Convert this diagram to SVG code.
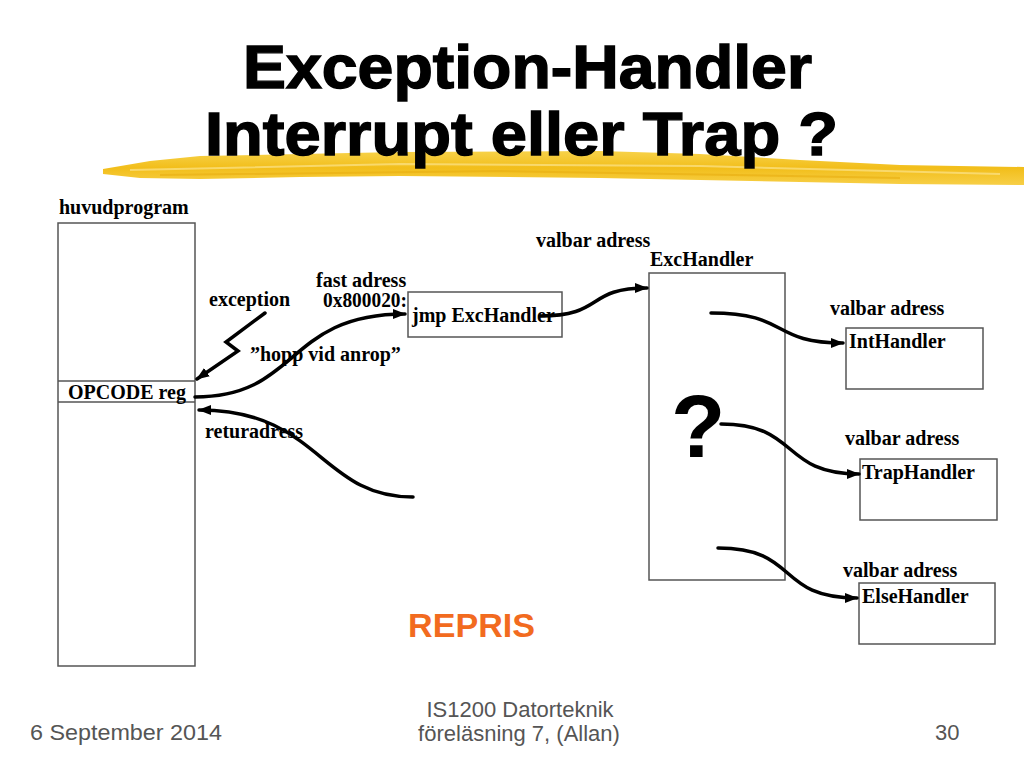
<svg xmlns="http://www.w3.org/2000/svg" width="1024" height="768" viewBox="0 0 1024 768">
<defs>
<style>
.lbl{font-family:"Liberation Serif","Times New Roman",serif;font-weight:bold;font-size:20px;fill:#000}
.box{fill:#fff;stroke:#555;stroke-width:1.5}
.conn{fill:none;stroke:#000;stroke-width:3.5;stroke-linecap:round;stroke-linejoin:miter}
.foot{font-family:"Liberation Sans Narrow","Liberation Sans",Arial,sans-serif;font-size:22px;fill:#555}
.title{font-family:"Liberation Sans",Arial,sans-serif;font-weight:bold;font-size:61px;fill:#000;stroke:#000;stroke-width:1.4}
</style>
<marker id="ah" markerUnits="userSpaceOnUse" markerWidth="14" markerHeight="10" refX="12" refY="5" orient="auto">
<path d="M0,0 L13,5 L0,10 z" fill="#000"/>
</marker>
<linearGradient id="brush" x1="0" y1="0" x2="0" y2="1">
<stop offset="0" stop-color="#F7D24A"/>
<stop offset="0.5" stop-color="#F2BE1A"/>
<stop offset="1" stop-color="#F7CF47"/>
</linearGradient>
</defs>
<rect width="1024" height="768" fill="#fff"/>

<g id="title">
<path d="M103,169 L150,161 L200,156 L300,154 L400,152 L600,151 L700,154 L800,160 L900,165 L1024,167 L1024,185 L900,184 L800,182 L700,180 L600,178 L400,176 L300,177 L200,179 L140,178 L103,174 z" fill="url(#brush)"/>
<path d="M130,170 L400,164 L700,166 L1000,174" stroke="#FBE38A" stroke-width="2" fill="none" opacity="0.7"/>
<path d="M160,175 L500,171 L900,178" stroke="#E8AE10" stroke-width="2" fill="none" opacity="0.6"/>
<text class="title" x="243" y="88" textLength="569" lengthAdjust="spacingAndGlyphs">Exception-Handler</text>
<text class="title" x="205" y="155" textLength="633" lengthAdjust="spacingAndGlyphs">Interrupt eller Trap ?</text>
</g>

<g id="huvudprogram">
<rect class="box" x="58" y="223" width="137" height="443"/>
<line x1="58" y1="381" x2="195" y2="381" stroke="#555" stroke-width="1.5"/>
<line x1="58" y1="402" x2="195" y2="402" stroke="#555" stroke-width="1.5"/>
<text class="lbl" x="59" y="214">huvudprogram</text>
<text class="lbl" x="68" y="399">OPCODE reg</text>
</g>

<g id="jmp">
<rect class="box" x="408" y="292" width="154" height="45"/>
<text class="lbl" x="412" y="322">jmp ExcHandler</text>
</g>

<g id="exchandler">
<rect class="box" x="649" y="273" width="136" height="307"/>
<text class="lbl" x="650" y="266">ExcHandler</text>
<text x="671" y="457" font-family="Liberation Sans,Arial,sans-serif" font-weight="bold" font-size="89" fill="#000">?</text>
</g>

<g id="inthandler">
<rect class="box" x="846" y="328" width="137" height="61"/>
<text class="lbl" x="849" y="348">IntHandler</text>
</g>

<g id="traphandler">
<rect class="box" x="860" y="459" width="137" height="61"/>
<text class="lbl" x="862" y="479">TrapHandler</text>
</g>

<g id="elsehandler">
<rect class="box" x="859" y="583" width="136" height="61"/>
<text class="lbl" x="862" y="603">ElseHandler</text>
</g>

<g id="labels">
<text class="lbl" x="209" y="306">exception</text>
<text class="lbl" x="316" y="287" font-size="18">fast adress</text>
<text class="lbl" x="323" y="307" font-size="18" textLength="84" lengthAdjust="spacingAndGlyphs">0x800020:</text>
<text class="lbl" x="250" y="361">”hopp vid anrop”</text>
<text class="lbl" x="205" y="438">returadress</text>
<text class="lbl" x="536" y="247">valbar adress</text>
<text class="lbl" x="830" y="315">valbar adress</text>
<text class="lbl" x="845" y="445">valbar adress</text>
<text class="lbl" x="843" y="577">valbar adress</text>
</g>

<g id="connectors">
<path class="conn" d="M195,397 C300,397 285,314 405,314" marker-end="url(#ah)"/>
<path class="conn" d="M413,497 C320,497 320,410 199,410" marker-end="url(#ah)"/>
<path class="conn" d="M265,313 L226,342 L238,351 L197,379" marker-end="url(#ah)"/>
<path class="conn" d="M540,316 C605,316 585,288 647,288" marker-end="url(#ah)"/>
<path class="conn" d="M711,313 C790,313 770,343 843,343" marker-end="url(#ah)"/>
<path class="conn" d="M721,424 C800,424 780,474 859,474" marker-end="url(#ah)"/>
<path class="conn" d="M718,548 C800,548 775,598 857,598" marker-end="url(#ah)"/>
</g>

<g id="footer">
<text x="408" y="637" font-family="Liberation Sans,Arial,sans-serif" font-weight="bold" font-size="34" fill="#F26B1F" textLength="127" lengthAdjust="spacingAndGlyphs">REPRIS</text>
<text class="foot" x="30" y="740" textLength="192" lengthAdjust="spacingAndGlyphs">6 September 2014</text>
<text class="foot" x="520" y="717" text-anchor="middle">IS1200 Datorteknik</text>
<text class="foot" x="519" y="741" text-anchor="middle">föreläsning 7, (Allan)</text>
<text class="foot" x="935" y="740">30</text>
</g>
</svg>
